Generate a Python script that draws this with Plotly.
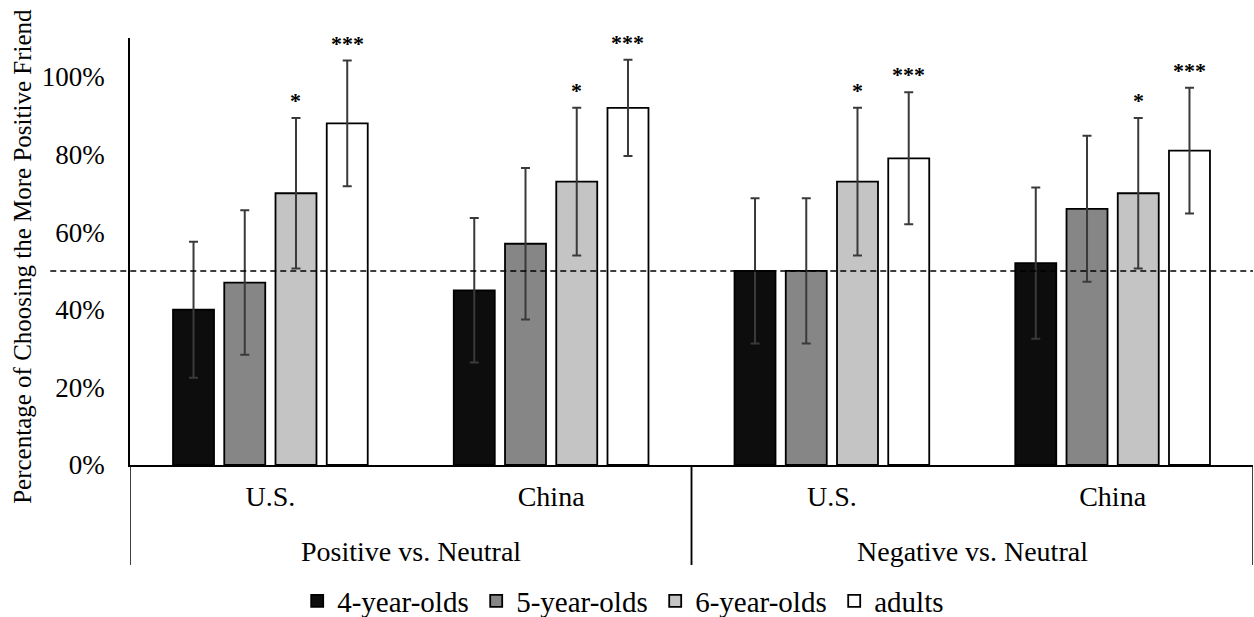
import plotly.graph_objects as go

# ---------------- data ----------------
conditions = ["Positive vs. Neutral", "Positive vs. Neutral",
              "Negative vs. Neutral", "Negative vs. Neutral"]
countries = ["U.S.", "China", "U.S.", "China"]

series_names = ["4-year-olds", "5-year-olds", "6-year-olds", "adults"]
four_yo = [40, 45, 50, 52]
five_yo = [47, 57, 50, 66]
six_yo = [70, 73, 73, 70]
adults = [88, 92, 79, 81]

four_err = [17.5, 18.6, 18.7, 19.5]
five_err = [18.6, 19.5, 18.7, 18.8]
six_err = [19.4, 19.0, 19.0, 19.4]
adults_err = [16.2, 12.4, 17.0, 16.2]

four_sig = ["", "", "", ""]
five_sig = ["", "", "", ""]
six_sig = ["*", "*", "*", "*"]
adults_sig = ["***", "***", "***", "***"]

chance_level = 50
y_ticks = [0, 20, 40, 60, 80, 100]
y_title = "Percentage of Choosing the More Positive Friend"

# ---------------- style ----------------
FONT = "Liberation Serif"
colors = ["#0d0d0d", "#868686", "#c4c4c4", "#ffffff"]
BARGAP = 0.27
BARGROUPGAP = 0.2
PLOT_H = 427            # px height of the plotting area
GROUP_LABEL_DY = 86     # px below the x axis
DIVIDER_DY = 100        # px below the x axis

values = [four_yo, five_yo, six_yo, adults]
errors = [four_err, five_err, six_err, adults_err]
sigs = [four_sig, five_sig, six_sig, adults_sig]
positions = list(range(len(countries)))

fig = go.Figure()
for name, vals, errs, col in zip(series_names, values, errors, colors):
    fig.add_trace(go.Bar(
        x=positions, y=vals, name=name,
        marker=dict(color=col, line=dict(color="#000000", width=1.8)),
        error_y=dict(type="data", array=errs, visible=True,
                     color="#3a3a3a", thickness=2, width=4.5),
    ))

# significance markers above error bars
n = len(series_names)
slot = (1 - BARGAP) / n
annotations = []
for s, (vals, errs, labels) in enumerate(zip(values, errors, sigs)):
    offset = -(1 - BARGAP) / 2 + slot * (s + 0.5)
    for i, (v, e, lab) in enumerate(zip(vals, errs, labels)):
        if lab:
            annotations.append(dict(
                x=positions[i] + offset, y=v + e + 5, xref="x", yref="y",
                text="<b>" + lab + "</b>", showarrow=False,
                font=dict(family=FONT, size=22, color="#000000"),
                yanchor="middle", xanchor="center", yshift=-2,
            ))

# group (second level) labels and dividers
groups = []
for c in conditions:
    if c not in groups:
        groups.append(c)
shapes = []
for g in groups:
    idx = [p for p, c in zip(positions, conditions) if c == g]
    annotations.append(dict(
        x=sum(idx) / len(idx), y=-GROUP_LABEL_DY / PLOT_H,
        xref="x", yref="paper", text=g, showarrow=False,
        xanchor="center", yanchor="middle",
        font=dict(family=FONT, size=28, color="#000000"),
    ))
    for edge in (min(idx) - 0.5, max(idx) + 0.5):
        shapes.append(dict(type="line", xref="x", yref="paper",
                           x0=edge, x1=edge, y0=0, y1=-DIVIDER_DY / PLOT_H,
                           line=dict(color="#000000", width=1.5)))

# y-axis title
annotations.append(dict(
    x=-0.096, y=0.488, xref="paper", yref="paper", text=y_title,
    textangle=-90, showarrow=False, xanchor="center", yanchor="middle",
    font=dict(family=FONT, size=25, color="#000000"),
))

shapes.append(dict(type="line", xref="paper", yref="y",
                   x0=-0.071, x1=1, y0=chance_level, y1=chance_level,
                   line=dict(color="#000000", width=1.5, dash="6px,4px")))

fig.update_layout(
    width=1254, height=617,
    margin=dict(l=130, r=1, t=38, b=152),
    paper_bgcolor="white", plot_bgcolor="white",
    barmode="group", bargap=BARGAP, bargroupgap=BARGROUPGAP,
    font=dict(family=FONT, color="#000000"),
    annotations=annotations, shapes=shapes,
    showlegend=True,
    legend=dict(orientation="h", xref="container", yref="container",
                x=0.237, xanchor="left", y=0.026, yanchor="middle",
                font=dict(family=FONT, size=29, color="#000000"),
                itemwidth=30, traceorder="normal",
                entrywidth=134, entrywidthmode="pixels"),
)
fig.update_yaxes(range=[0, 110], tickvals=y_ticks,
                 ticktext=[f"{t}%" for t in y_ticks],
                 showgrid=False, zeroline=False,
                 showline=True, linecolor="#000000", linewidth=1.5,
                 ticks="", ticklabelstandoff=18,
                 tickfont=dict(family=FONT, size=27, color="#000000"))
fig.update_xaxes(range=[-0.5, len(countries) - 0.5],
                 tickvals=positions, ticktext=countries,
                 showgrid=False, zeroline=False,
                 showline=True, linecolor="#000000", linewidth=1.5,
                 ticks="", ticklabelstandoff=6,
                 tickfont=dict(family=FONT, size=28, color="#000000"))

fig.write_html("out.html", config={"displayModeBar": False},
               post_script="document.body.style.margin='0';")
